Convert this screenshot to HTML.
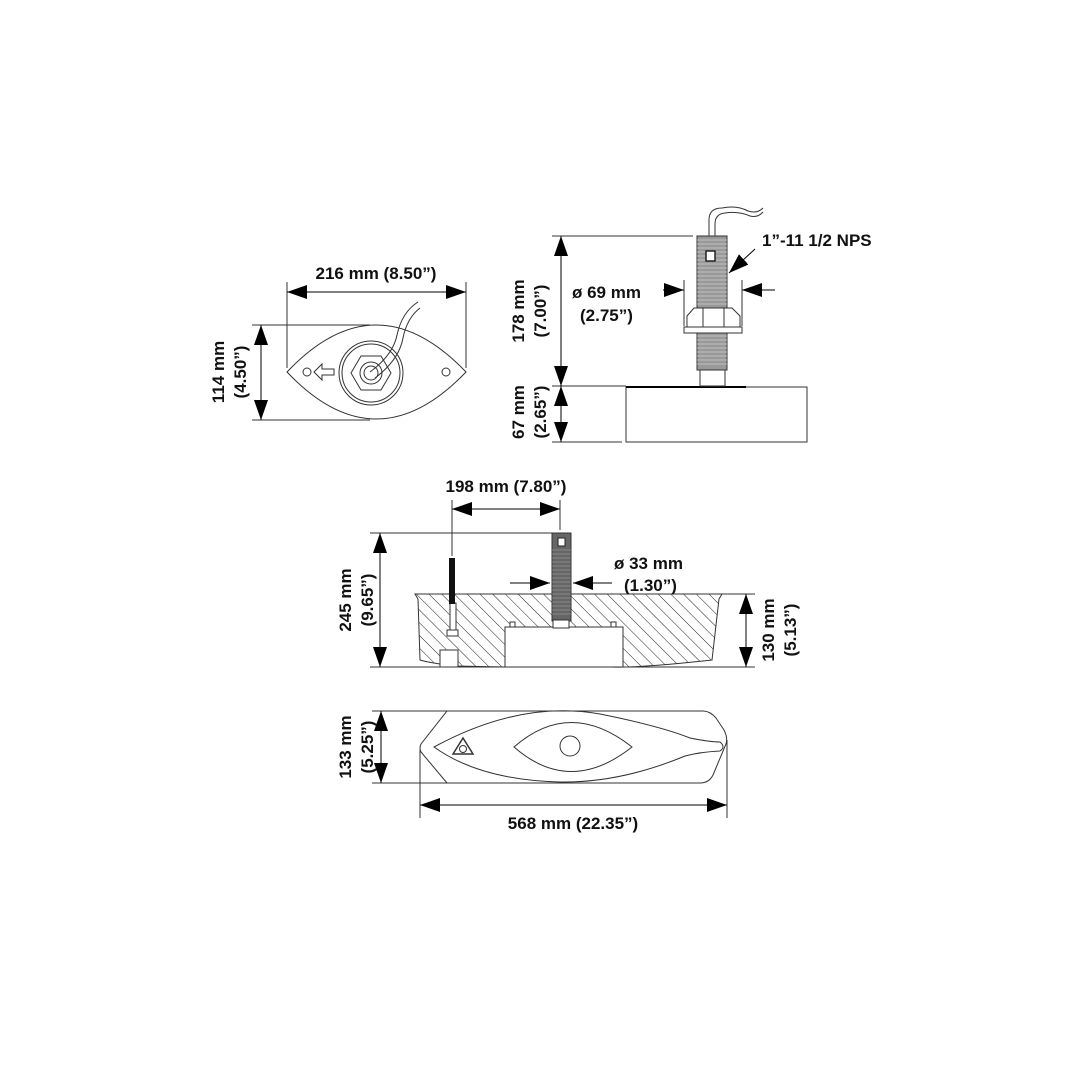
<!DOCTYPE html>
<html><head><meta charset="utf-8"><style>
html,body{margin:0;padding:0;background:#fff;}
svg{display:block}
text{font-family:"Liberation Sans",sans-serif;font-size:17px;font-weight:bold;fill:#111}
</style></head><body>
<svg width="1080" height="1080" viewBox="0 0 1080 1080" xmlns="http://www.w3.org/2000/svg">
<defs>
<marker id="b" viewBox="0 0 20 14" refX="20" refY="7" markerWidth="20" markerHeight="14" markerUnits="userSpaceOnUse" orient="auto-start-reverse"><path d="M0,0L20,7L0,14z" fill="#000"/></marker>
<pattern id="h" width="9" height="9" patternUnits="userSpaceOnUse" patternTransform="rotate(-45)"><line x1="0" y1="0" x2="0" y2="9" stroke="#222" stroke-width="1"/></pattern>
</defs>
<g fill="none" stroke="#333" stroke-width="1">
<!-- TOP LEFT VIEW -->
<line x1="287" y1="282" x2="287" y2="368"/><line x1="466" y1="282" x2="466" y2="368"/>
<line x1="287" y1="292" x2="466" y2="292" stroke="#000" marker-start="url(#b)" marker-end="url(#b)"/>
<line x1="252" y1="325" x2="370" y2="325"/><line x1="252" y1="420" x2="370" y2="420"/>
<line x1="261" y1="325" x2="261" y2="420" stroke="#000" marker-start="url(#b)" marker-end="url(#b)"/>
<path d="M287,372 Q376,278 466,372 Q376,466 287,372Z"/>
<circle cx="307" cy="372" r="4"/><circle cx="446" cy="372" r="4"/>
<path d="M314,372l8,-8v5h12v6h-12v5z"/>
<circle cx="371" cy="373" r="32"/><circle cx="371" cy="373" r="29"/>
<polygon points="351,373 361,356 381,356 391,373 381,390 361,390"/>
<circle cx="371" cy="373" r="11"/><circle cx="371" cy="373" r="7"/>
<path d="M370,372 Q393,355 397,335 Q402,312 418,302 M375,378 Q399,360 403,338 Q407,318 420,308"/>
<!-- TOP RIGHT VIEW -->
<line x1="552" y1="236" x2="693" y2="236"/><line x1="552" y1="386" x2="626" y2="386"/><line x1="552" y1="442" x2="622" y2="442"/>
<line x1="561" y1="236" x2="561" y2="386" stroke="#000" marker-start="url(#b)" marker-end="url(#b)"/>
<line x1="561" y1="386" x2="561" y2="442" stroke="#000" marker-start="url(#b)" marker-end="url(#b)"/>
<rect x="626" y="387" width="181" height="55"/>
<line x1="626" y1="387" x2="746" y2="387" stroke="#000" stroke-width="2"/>
<path d="M709,236 V220 Q709,208 722,208 Q737,205 748,211 Q757,214 763,208 M715,236 V224 Q715,214 725,213 Q738,211 750,216 Q758,218 763,212"/>
<rect x="697" y="236" width="30" height="134" fill="#999" stroke="#333"/>
<g stroke="#ccc" stroke-width="0.7">
<path d="M697,240h30M697,244h30M697,248h30M697,252h30M697,256h30M697,260h30M697,264h30M697,268h30M697,272h30M697,276h30M697,280h30M697,284h30M697,288h30M697,292h30M697,296h30M697,300h30M697,304h30M697,336h30M697,340h30M697,344h30M697,348h30M697,352h30M697,356h30M697,360h30M697,364h30"/>
</g>
<rect x="706" y="251" width="9" height="10" fill="#fff" stroke="#222" stroke-width="1.5"/>
<rect x="700" y="370" width="25" height="16" fill="#fff"/>
<path d="M687,327 V316 L694,308 H732 L740,316 V327Z" fill="#fff"/>
<line x1="703" y1="308" x2="703" y2="327"/><line x1="724" y1="308" x2="724" y2="327"/>
<rect x="684" y="327" width="58" height="6" fill="#fff"/>
<line x1="684" y1="280" x2="684" y2="326"/><line x1="742" y1="280" x2="742" y2="326"/>
<line x1="663" y1="290" x2="684" y2="290" stroke="#000" marker-end="url(#b)"/>
<line x1="775" y1="290" x2="742" y2="290" stroke="#000" marker-end="url(#b)"/>
<line x1="755" y1="249" x2="729" y2="273" stroke="#000" marker-end="url(#b)"/>
<!-- SIDE SECTION -->
<line x1="452" y1="500" x2="452" y2="556"/><line x1="560" y1="500" x2="560" y2="530"/>
<line x1="452" y1="509" x2="560" y2="509" stroke="#000" marker-start="url(#b)" marker-end="url(#b)"/>
<line x1="370" y1="533" x2="552" y2="533"/>
<line x1="370" y1="667" x2="755" y2="667"/>
<line x1="722" y1="594" x2="755" y2="594"/>
<line x1="380" y1="533" x2="380" y2="667" stroke="#000" marker-start="url(#b)" marker-end="url(#b)"/>
<line x1="746" y1="594" x2="746" y2="667" stroke="#000" marker-start="url(#b)" marker-end="url(#b)"/>
<path d="M415,594 H722 L719,599 L712,660 Q640,668 612,667 H505 L455,666 Q430,663 420,660 L418,599Z" fill="url(#h)"/>
<rect x="505" y="627" width="118" height="40" fill="#fff"/>
<rect x="510" y="622" width="5" height="5" fill="#fff"/><rect x="611" y="622" width="5" height="5" fill="#fff"/>
<rect x="440" y="650" width="18" height="17" fill="#fff"/>
<rect x="450" y="603" width="6" height="28" fill="#fff"/>
<rect x="447" y="630" width="11" height="6" fill="#fff"/>
<rect x="449" y="558" width="6" height="46" fill="#111" stroke="none"/>
<rect x="552" y="533" width="19" height="88" fill="#666"/>
<g stroke="#aaa" stroke-width="0.6"><path d="M552,550h19M552,554h19M552,558h19M552,562h19M552,566h19M552,570h19M552,574h19M552,578h19M552,582h19M552,586h19M552,590h19M552,594h19M552,598h19M552,602h19M552,606h19M552,610h19M552,614h19"/></g>
<rect x="558" y="538" width="7" height="8" fill="#fff" stroke="#222"/>
<rect x="553" y="620" width="16" height="8" fill="#fff"/>
<line x1="510" y1="583" x2="550" y2="583" stroke="#000" marker-end="url(#b)"/>
<line x1="612" y1="583" x2="573" y2="583" stroke="#000" marker-end="url(#b)"/>
<!-- BOTTOM VIEW -->
<line x1="372" y1="711" x2="450" y2="711"/><line x1="372" y1="783" x2="450" y2="783"/>
<line x1="381" y1="711" x2="381" y2="783" stroke="#000" marker-start="url(#b)" marker-end="url(#b)"/>
<line x1="420" y1="750" x2="420" y2="818"/><line x1="727" y1="740" x2="727" y2="818"/>
<line x1="420" y1="805" x2="727" y2="805" stroke="#000" marker-start="url(#b)" marker-end="url(#b)"/>
<path d="M447,711 H703 Q710,711 716,718 L724,730 Q728,738 726,744 L713,775 Q709,783 700,783 H447 L421,752 Q419,748 421,744Z"/>
<path d="M434,747 Q520,700 600,714 Q660,726 690,738 Q710,742 720,742 Q726,747 720,751 Q700,752 685,756 Q620,783 560,782 Q480,780 434,747Z"/>
<path d="M514,747 Q570,698 632,747 Q570,796 514,747Z"/>
<circle cx="570" cy="746" r="10"/>
<path d="M453,754 L463,738 L473,754Z" stroke-width="1.5"/><circle cx="463" cy="749" r="3.5"/>
</g>
<text x="376" y="279" text-anchor="middle">216 mm (8.50”)</text>
<text transform="translate(224,372) rotate(-90)" text-anchor="middle">114 mm</text>
<text transform="translate(246,372) rotate(-90)" text-anchor="middle">(4.50”)</text>
<text transform="translate(524,311) rotate(-90)" text-anchor="middle">178 mm</text>
<text transform="translate(546,311) rotate(-90)" text-anchor="middle">(7.00”)</text>
<text transform="translate(524,412) rotate(-90)" text-anchor="middle">67 mm</text>
<text transform="translate(546,412) rotate(-90)" text-anchor="middle">(2.65”)</text>
<text x="572" y="298">ø 69 mm</text>
<text x="580" y="321">(2.75”)</text>
<text x="762" y="246">1”-11 1/2 NPS</text>
<text x="506" y="492" text-anchor="middle">198 mm (7.80”)</text>
<text x="614" y="569">ø 33 mm</text>
<text x="624" y="591">(1.30”)</text>
<text transform="translate(351,600) rotate(-90)" text-anchor="middle">245 mm</text>
<text transform="translate(373,600) rotate(-90)" text-anchor="middle">(9.65”)</text>
<text transform="translate(774,630) rotate(-90)" text-anchor="middle">130 mm</text>
<text transform="translate(796,630) rotate(-90)" text-anchor="middle">(5.13”)</text>
<text transform="translate(351,747) rotate(-90)" text-anchor="middle">133 mm</text>
<text transform="translate(373,747) rotate(-90)" text-anchor="middle">(5.25”)</text>
<text x="573" y="829" text-anchor="middle">568 mm (22.35”)</text>
</svg>
</body></html>
